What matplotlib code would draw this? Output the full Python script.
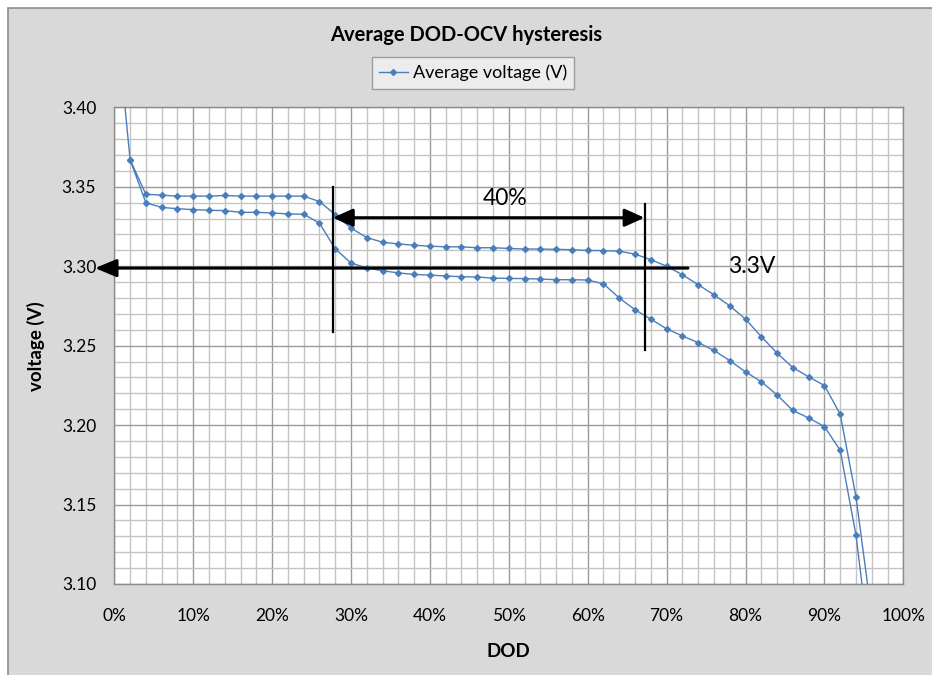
import numpy as np
import matplotlib
matplotlib.use('Agg')
import matplotlib.pyplot as plt
from matplotlib.patches import Rectangle
from matplotlib.ticker import MultipleLocator, FuncFormatter

plt.rcParams['font.family'] = ['Lato', 'DejaVu Sans']

# discharge branch (DOD going up) and charge branch (DOD going back down)
dod_out = [0, 2, 4, 6, 8, 10, 12, 14, 16, 18, 20, 22, 24, 26, 28, 30, 32, 34, 36, 38, 40,
           42, 44, 46, 48, 50, 52, 54, 56, 58, 60, 62, 64, 66, 68, 70, 72, 74, 76, 78, 80,
           82, 84, 86, 88, 90, 92, 94, 96]
volt_out = [3.470, 3.367, 3.3399, 3.3370, 3.3362, 3.3356, 3.3352, 3.3350, 3.3339, 3.3339,
            3.3335, 3.3329, 3.3327, 3.3271, 3.3109, 3.3020, 3.2989, 3.2971, 3.2958, 3.2948,
            3.2944, 3.2938, 3.2934, 3.2932, 3.2925, 3.2923, 3.2922, 3.2919, 3.2915, 3.2915,
            3.2913, 3.2889, 3.2800, 3.2726, 3.2667, 3.2606, 3.2561, 3.2519, 3.2470, 3.2406,
            3.2335, 3.2273, 3.2190, 3.2092, 3.2045, 3.1991, 3.1842, 3.1308, 3.050]
dod_back = [96, 94, 92, 90, 88, 86, 84, 82, 80, 78, 76, 74, 72, 70, 68, 66, 64, 62, 60, 58,
            56, 54, 52, 50, 48, 46, 44, 42, 40, 38, 36, 34, 32, 30, 28, 26, 24, 22, 20, 18,
            16, 14, 12, 10, 8, 6, 4, 2]
volt_back = [3.080, 3.1549, 3.2069, 3.2249, 3.2304, 3.2362, 3.2453, 3.2557, 3.2667, 3.2751,
             3.2820, 3.2884, 3.2946, 3.3000, 3.3041, 3.3076, 3.3094, 3.3098, 3.3099, 3.3104,
             3.3106, 3.3108, 3.3108, 3.3112, 3.3116, 3.3116, 3.3122, 3.3122, 3.3126, 3.3132,
             3.3140, 3.3151, 3.3180, 3.3240, 3.3325, 3.3407, 3.3441, 3.3441, 3.3441, 3.3441,
             3.3441, 3.3445, 3.3441, 3.3441, 3.3441, 3.3447, 3.3453, 3.367]

dod = dod_out + dod_back
volt = volt_out + volt_back

fig = plt.figure(figsize=(9.32, 6.75), dpi=100)
fig.patch.set_facecolor('white')
bg = Rectangle((8 / 932, -0.01), 1.0, 1 - 8 / 675 + 0.01, transform=fig.transFigure,
               facecolor='#d9d9d9', edgecolor='#8c8c8c', lw=1.2, zorder=-10)
fig.add_artist(bg)

ax = fig.add_axes([114.3 / 932, 1 - 584 / 675, (903.3 - 114.3) / 932, (584 - 107.3) / 675])
ax.set_zorder(1)
ax.set_facecolor('white')

ax.plot(dod, volt, color='#4a7ebb', lw=1.0, marker='D', ms=3, mec='#4a7ebb', mfc='#4a7ebb',
        label='Average voltage (V)', zorder=3)

ax.set_xlim(0, 100)
ax.set_ylim(3.10, 3.40)
ax.xaxis.set_major_locator(MultipleLocator(10))
ax.xaxis.set_minor_locator(MultipleLocator(2))
ax.yaxis.set_major_locator(MultipleLocator(0.05))
ax.yaxis.set_minor_locator(MultipleLocator(0.01))
ax.xaxis.set_major_formatter(FuncFormatter(lambda v, p: '%d%%' % round(v)))
ax.yaxis.set_major_formatter(FuncFormatter(lambda v, p: '%.2f' % v))
ax.grid(which='major', color='#9a9a9a', lw=1.0, zorder=1)
ax.grid(which='minor', color='#c4c4c4', lw=1.0, zorder=1)
ax.set_axisbelow(True)
ax.tick_params(which='both', length=0)
ax.tick_params(axis='y', pad=13, labelsize=12.5)
ax.tick_params(axis='x', pad=17, labelsize=12.5)
for s in ax.spines.values():
    s.set_color('#8c8c8c')
    s.set_linewidth(1.0)

ax.set_xlabel('DOD', fontsize=13.5, fontweight='bold', labelpad=14)
ax.set_ylabel('voltage (V)', fontsize=13.5, fontweight='bold', labelpad=12)
fig.text(0.5, 1 - 35 / 675, 'Average DOD-OCV hysteresis', ha='center', va='center',
         fontsize=14.5, fontweight='bold')

leg = ax.legend(loc='center', bbox_to_anchor=(473 / 932, 1 - 73 / 675),
                bbox_transform=fig.transFigure, fontsize=13, frameon=True, fancybox=False,
                handlelength=1.6, borderpad=0.4, handletextpad=0.3)
leg.get_frame().set_facecolor('#f2f2f2')
leg.get_frame().set_edgecolor('#8c8c8c')
leg.get_frame().set_linewidth(1.0)

# annotations
ax.plot([27.7, 27.7], [3.350, 3.2588], color='black', lw=1.6, zorder=4)
ax.plot([67.2, 67.2], [3.339, 3.2473], color='black', lw=1.6, zorder=4)
ax.annotate('', xy=(27.7, 3.3305), xytext=(67.2, 3.3305),
            arrowprops=dict(arrowstyle='<|-|>,head_length=12,head_width=5.4', mutation_scale=1,
                            color='black', lw=2.2, shrinkA=0, shrinkB=0), zorder=5)
ax.annotate('', xy=(-2.45, 3.2988), xytext=(72.7, 3.2988), annotation_clip=False,
            arrowprops=dict(arrowstyle='-|>,head_length=13,head_width=5.4', mutation_scale=1,
                            color='black', lw=2.2, shrinkA=0, shrinkB=0), zorder=5)
ax.text(49.5, 3.3427, '40%', ha='center', va='center', fontsize=16.5, zorder=5)
ax.text(80.8, 3.2995, '3.3V', ha='center', va='center', fontsize=16.5, zorder=5)

plt.savefig('out.png', dpi=100)
